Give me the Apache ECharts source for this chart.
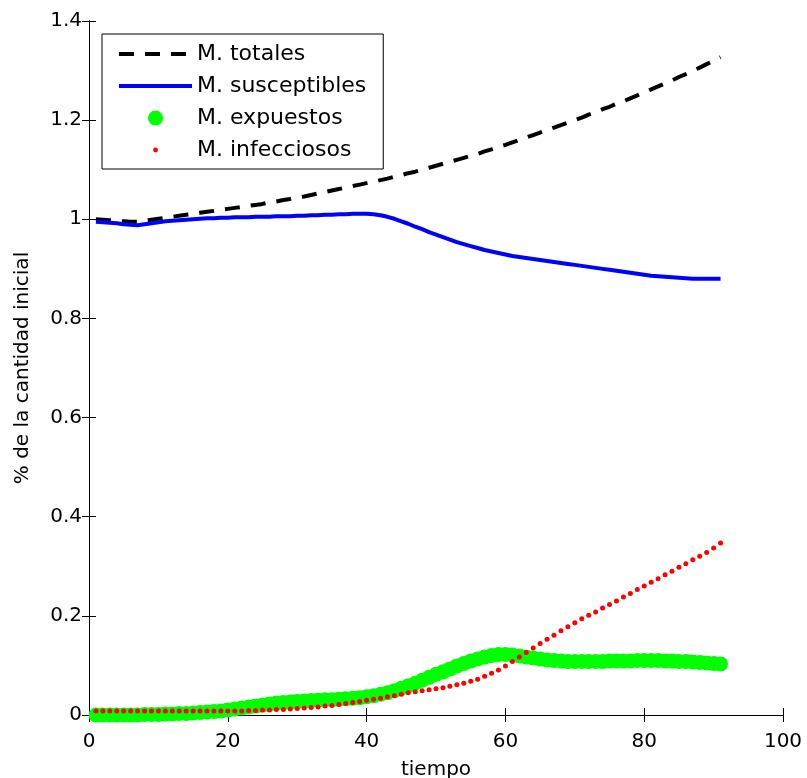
<!DOCTYPE html>
<html><head><meta charset="utf-8">
<script src="https://cdn.jsdelivr.net/npm/echarts@6/dist/echarts.min.js"></script>
<style>html,body{margin:0;padding:0;background:#fff}#c{width:807px;height:778px}</style>
</head><body><div id="c"></div>
<script>
// tiempo: 1..91
const tiempo = [];
for (let i = 1; i <= 91; i++) tiempo.push(i);

const totales = [
1.000,0.999,0.998,0.997,0.996,0.995,0.995,0.997,0.999,1.001,
1.003,1.005,1.007,1.009,1.011,1.013,1.015,1.017,1.019,1.021,
1.023,1.025,1.027,1.029,1.031,1.034,1.036,1.039,1.041,1.044,
1.046,1.049,1.052,1.055,1.058,1.061,1.064,1.067,1.070,1.073,
1.076,1.079,1.082,1.086,1.089,1.093,1.096,1.100,1.104,1.108,
1.112,1.116,1.120,1.124,1.128,1.132,1.137,1.141,1.146,1.150,
1.155,1.160,1.165,1.170,1.175,1.180,1.185,1.190,1.195,1.200,
1.205,1.211,1.216,1.222,1.227,1.233,1.238,1.244,1.250,1.256,
1.262,1.268,1.274,1.280,1.287,1.293,1.300,1.306,1.313,1.320,1.327];

const susceptibles = [
0.995,0.994,0.993,0.992,0.990,0.989,0.988,0.990,0.992,0.994,
0.996,0.997,0.998,0.999,1.000,1.001,1.002,1.002,1.003,1.003,
1.004,1.004,1.004,1.005,1.005,1.005,1.006,1.006,1.006,1.007,
1.007,1.008,1.008,1.009,1.009,1.010,1.010,1.011,1.011,1.011,
1.010,1.008,1.005,1.001,0.996,0.991,0.985,0.980,0.974,0.969,
0.964,0.959,0.954,0.950,0.946,0.942,0.938,0.935,0.932,0.929,
0.926,0.924,0.922,0.920,0.918,0.916,0.914,0.912,0.910,0.908,
0.906,0.904,0.902,0.900,0.898,0.896,0.894,0.892,0.890,0.888,
0.886,0.885,0.884,0.883,0.882,0.881,0.880,0.880,0.880,0.880,0.880];

const expuestos = [
0.000,0.000,0.000,0.000,0.000,0.000,0.000,0.001,0.001,0.001,
0.002,0.002,0.003,0.003,0.004,0.005,0.006,0.007,0.008,0.010,
0.012,0.014,0.016,0.018,0.020,0.022,0.024,0.025,0.026,0.027,
0.028,0.029,0.030,0.031,0.031,0.032,0.033,0.034,0.035,0.037,
0.039,0.042,0.045,0.049,0.054,0.059,0.064,0.070,0.076,0.082,
0.087,0.093,0.099,0.104,0.109,0.113,0.117,0.120,0.122,0.122,
0.121,0.119,0.117,0.115,0.113,0.111,0.110,0.109,0.108,0.108,
0.108,0.108,0.108,0.108,0.109,0.109,0.109,0.109,0.110,0.110,
0.110,0.110,0.109,0.109,0.108,0.108,0.107,0.106,0.105,0.104,0.103];

const infecciosos = [
0.008,0.008,0.008,0.008,0.008,0.008,0.008,0.008,0.008,0.008,
0.008,0.008,0.008,0.008,0.008,0.008,0.008,0.008,0.008,0.008,
0.008,0.008,0.009,0.009,0.010,0.010,0.011,0.011,0.012,0.013,
0.014,0.015,0.016,0.018,0.019,0.021,0.023,0.025,0.027,0.030,
0.032,0.034,0.037,0.039,0.042,0.045,0.047,0.049,0.051,0.053,
0.055,0.058,0.061,0.064,0.068,0.072,0.078,0.084,0.091,0.099,
0.108,0.117,0.126,0.135,0.144,0.153,0.161,0.170,0.178,0.186,
0.194,0.201,0.208,0.216,0.223,0.230,0.238,0.245,0.253,0.260,
0.268,0.275,0.283,0.290,0.298,0.305,0.313,0.320,0.328,0.337,0.347];

const xTicks = [0, 20, 40, 60, 80, 100];
const yTicks = [0, 0.2, 0.4, 0.6, 0.8, 1, 1.2, 1.4];
const names = ['M. totales', 'M. susceptibles', 'M. expuestos', 'M. infecciosos'];

function pairs(ys) { return tiempo.map((t, i) => [t, ys[i]]); }

const FONT = 'DejaVu Sans';
const axisCommon = {
  axisLine: { show: true, lineStyle: { color: '#000', width: 1 } },
  axisTick: { show: true, inside: true, length: 7, lineStyle: { color: '#000' } },
  splitLine: { show: false }
};
const bigDot = 'path://M0,0 M20,20 M2.5,10 A7.5,7.5 0 1 1 17.5,10 A7.5,7.5 0 1 1 2.5,10 Z';
const smallDot = 'path://M0,0 M20,20 M7.6,10 A2.4,2.4 0 1 1 12.4,10 A2.4,2.4 0 1 1 7.6,10 Z';

const chart = echarts.init(document.getElementById('c'), null, { renderer: 'canvas' });
chart.setOption({
  animation: false,
  backgroundColor: '#fff',
  textStyle: { fontFamily: FONT },
  grid: { left: 89, right: 24, top: 21, bottom: 63, containLabel: false, outerBoundsMode: 'none' },
  legend: {
    orient: 'vertical', left: 102, top: 34,
    padding: [9, 17, 8, 15],
    borderColor: '#000', borderWidth: 1, backgroundColor: '#fff',
    itemWidth: 73, itemHeight: 20, itemGap: 10,
    textStyle: { fontFamily: FONT, fontSize: 22, color: '#000', lineHeight: 21 },
    data: [
      { name: names[0], itemStyle: { opacity: 0 }, lineStyle: { width: 4, type: [15, 11], color: '#000' } },
      { name: names[1], itemStyle: { opacity: 0 }, lineStyle: { width: 4, color: '#0000ff' } },
      { name: names[2], icon: bigDot },
      { name: names[3], icon: smallDot }
    ]
  },
  xAxis: [
    Object.assign({}, axisCommon, {
      type: 'value', min: xTicks[0], max: xTicks[xTicks.length - 1], interval: 20, position: 'bottom',
      name: 'tiempo', nameLocation: 'middle', nameGap: 45,
      nameTextStyle: { fontFamily: FONT, fontSize: 20, color: '#000' },
      axisLabel: { fontFamily: FONT, fontSize: 20, color: '#000', margin: 17 }
    }),
    Object.assign({}, axisCommon, {
      type: 'value', min: xTicks[0], max: xTicks[xTicks.length - 1], interval: 20, position: 'top',
      axisLabel: { show: false }
    })
  ],
  yAxis: [
    Object.assign({}, axisCommon, {
      type: 'value', min: yTicks[0], max: yTicks[yTicks.length - 1], interval: 0.2, position: 'left',
      name: '% de la cantidad inicial', nameLocation: 'middle', nameGap: 56,
      nameTextStyle: { fontFamily: FONT, fontSize: 20, color: '#000' },
      axisLabel: { fontFamily: FONT, fontSize: 20, color: '#000', margin: 7,
        formatter: v => String(Math.round(v * 10) / 10) }
    }),
    Object.assign({}, axisCommon, {
      type: 'value', min: yTicks[0], max: yTicks[yTicks.length - 1], interval: 0.2, position: 'right',
      axisLabel: { show: false }
    })
  ],
  series: [
    {
      name: names[2], type: 'scatter', data: pairs(expuestos),
      symbol: 'circle', symbolSize: 15, itemStyle: { color: '#00ff00', opacity: 1 }, z: 2
    },
    {
      name: names[3], type: 'scatter', data: pairs(infecciosos),
      symbol: 'circle', symbolSize: 5, itemStyle: { color: '#ff0000', opacity: 1 }, z: 3
    },
    {
      name: names[0], type: 'line', data: pairs(totales), symbol: 'none', showSymbol: false,
      itemStyle: { color: '#000' },
      lineStyle: { color: '#000', width: 4, type: [15, 11] }, z: 4
    },
    {
      name: names[1], type: 'line', data: pairs(susceptibles), symbol: 'none', showSymbol: false,
      itemStyle: { color: '#0000ff' },
      lineStyle: { color: '#0000ff', width: 4 }, z: 5
    }
  ]
});
</script>
</body></html>
